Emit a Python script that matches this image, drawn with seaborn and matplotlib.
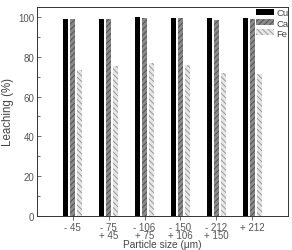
import matplotlib
matplotlib.use("Agg")
import matplotlib.pyplot as plt
import seaborn as sns
import pandas as pd
from matplotlib.ticker import MultipleLocator
from matplotlib.patches import Patch

categories = ["- 45", "- 75\n+ 45", "- 106\n+ 75", "- 150\n+ 106", "- 212\n+ 150", "+ 212"]
cu = [99.0, 99.0, 99.8, 99.7, 99.4, 99.3]
ca = [99.0, 99.0, 99.5, 99.3, 98.5, 99.2]
fe = [73.4, 75.4, 77.0, 75.8, 71.9, 71.4]
series = ["Cu", "Ca", "Fe"]

df = pd.DataFrame({
    "size": categories * 3,
    "metal": sum([[s] * len(categories) for s in series], []),
    "value": cu + ca + fe,
})

sns.set_style("ticks")
plt.rcParams["font.family"] = ["Liberation Sans", "DejaVu Sans"]
plt.rcParams["hatch.linewidth"] = 0.6

fig = plt.figure(figsize=(2.92, 2.51), dpi=100)
ax = fig.add_axes([37 / 292, 1 - 217 / 251, 251 / 292, 209 / 251])

facecols = ["black", "#8a8a8a", "#e6e6e6"]
hatches = [None, "//////", "\\\\\\\\\\\\"]
hatch_colors = ["black", "#4a4a4a", "#8f8f8f"]

sns.barplot(data=df, x="size", y="value", hue="metal", order=categories,
            hue_order=series, ax=ax, width=0.58, gap=0.28,
            palette=facecols, errorbar=None,
            edgecolor="none", legend=False)

for cont, h, hc in zip(ax.containers, hatches, hatch_colors):
    for bar in cont:
        if h:
            bar.set_hatch(h)
            bar.set_edgecolor(hc)
            bar.set_linewidth(0)

handles = [Patch(facecolor=fc, edgecolor=hc, hatch=h, linewidth=0)
           for fc, hc, h in zip(facecols, hatch_colors, hatches)]
ax.legend(handles, series, loc="upper left", frameon=False, fontsize=6.8,
          handlelength=1.9, handleheight=0.55, handletextpad=0.25, labelspacing=0.12,
          borderaxespad=0.0, borderpad=0.15, bbox_to_anchor=(0.868, 1.0),
          labelcolor="#444444")

ax.set_xlim(-1, 6)
ax.set_ylim(0, 105)
ax.yaxis.set_major_locator(MultipleLocator(20))
ax.yaxis.set_minor_locator(MultipleLocator(10))
ax.tick_params(direction="in", length=3, width=0.6, labelsize=7, colors="#555555", pad=2)
ax.tick_params(which="minor", direction="in", length=2, width=0.5)
ax.tick_params(axis="x", direction="out", length=3, pad=1, labelsize=7)
for t in ax.get_xticklabels():
    t.set_linespacing(0.85)
for s in ax.spines.values():
    s.set_visible(True)
    s.set_linewidth(0.7)
    s.set_color("#333333")

ax.set_xlabel("Particle size (μm)", fontsize=7.3, color="#444444", labelpad=0)
ax.xaxis.set_label_coords(0.5, -0.108)
ax.set_ylabel("Leaching (%)", fontsize=8.3, color="#444444", labelpad=3)

fig.savefig("out.png", dpi=100)
